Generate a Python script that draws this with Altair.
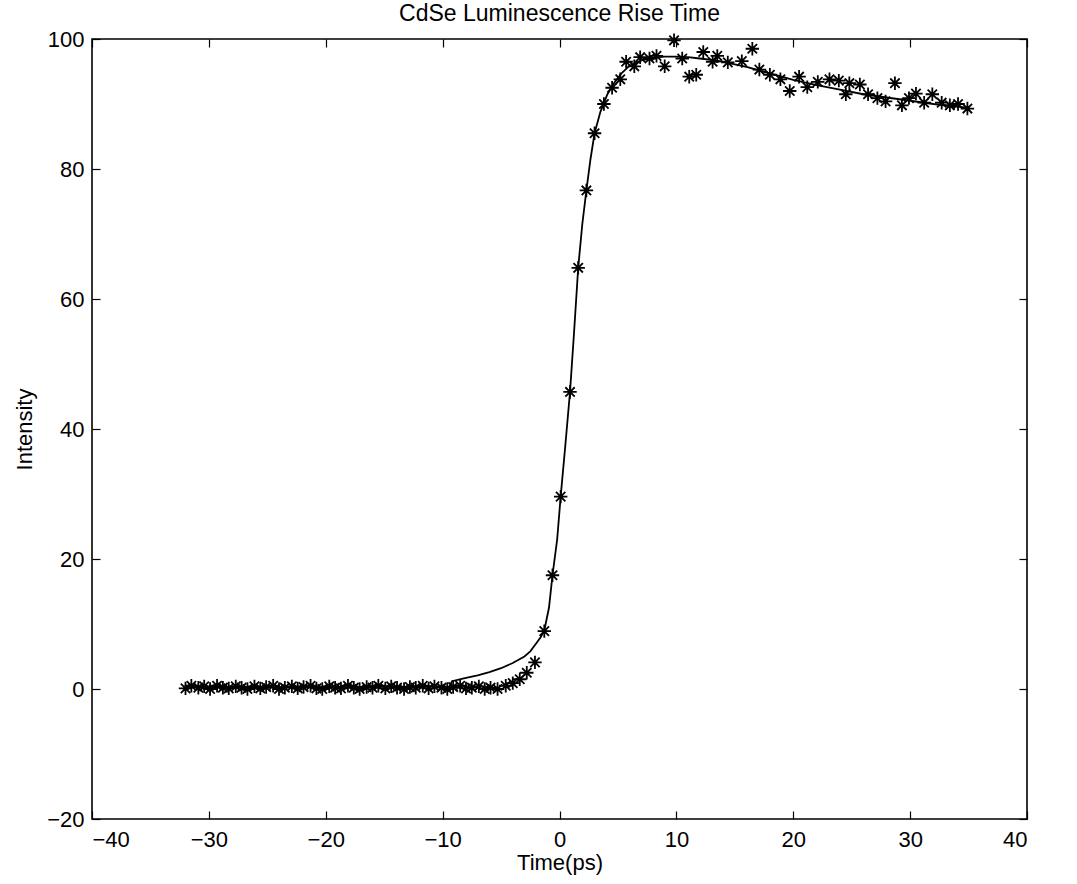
import altair as alt
import pandas as pd

# Measured data points (asterisks)
pt_x = [-32.0, -31.5, -30.9, -30.4, -29.9, -29.3, -28.8, -28.3, -27.7, -27.2,
        -26.7, -26.1, -25.6, -25.1, -24.5, -24.0, -23.5, -22.9, -22.4, -21.9,
        -21.3, -20.8, -20.3, -19.7, -19.2, -18.7, -18.1, -17.6, -17.1, -16.5,
        -16.0, -15.5, -14.9, -14.4, -13.9, -13.3, -12.8, -12.3, -11.7, -11.2,
        -10.7, -10.1, -9.6, -9.1, -8.5, -8.0, -7.5, -6.9, -6.4, -5.9,
        -5.3, -4.6, -4.0, -3.4, -2.8, -2.1, -1.3, -0.6, 0.1, 0.9, 1.6, 2.3,
        3.0, 3.8, 4.5, 5.2, 5.7, 6.4, 6.9, 7.7, 8.3, 9.0, 9.8, 10.5, 11.1, 11.7,
        12.3, 13.1, 13.5, 14.4, 15.6, 16.5, 17.1, 18.0, 18.9, 19.7, 20.5, 21.2,
        22.1, 23.1, 23.9, 24.5, 24.8, 25.7, 26.4, 27.2, 27.9, 28.7, 29.3, 29.9,
        30.5, 31.2, 31.9, 32.7, 33.4, 34.1, 34.9]
pt_y = [0.1, 0.5, 0.2, 0.4, 0.0, 0.5, 0.2, 0.1, 0.4, 0.2,
        0.0, 0.4, 0.1, 0.3, 0.5, 0.0, 0.2, 0.4, 0.1, 0.3,
        0.5, 0.1, 0.0, 0.4, 0.2, 0.1, 0.5, 0.2, 0.0, 0.3,
        0.2, 0.5, 0.1, 0.4, 0.2, 0.0, 0.3, 0.2, 0.5, 0.1,
        0.4, 0.2, 0.0, 0.3, 0.5, 0.1, 0.2, 0.4, 0.0, 0.2,
        0.0, 0.5, 0.9, 1.5, 2.5, 4.1, 8.9, 17.5, 29.6, 45.7, 64.8, 76.7,
        85.5, 90.0, 92.5, 93.8, 96.5, 95.8, 97.2, 97.0, 97.4, 95.8, 99.8, 97.0, 94.2, 94.5,
        98.0, 96.5, 97.4, 96.4, 96.6, 98.5, 95.3, 94.5, 93.8, 92.0, 94.2, 92.6,
        93.4, 93.8, 93.6, 91.5, 93.2, 93.0, 91.5, 90.9, 90.4, 93.2, 89.8, 90.9,
        91.6, 90.2, 91.5, 90.2, 89.8, 90.0, 89.3]

# Fitted curve
fit_x = [-32, -20, -9.4, -9.2, -8, -7, -6, -5, -4, -3, -2.5, -2, -1.6, -1.3, -0.9,
         -0.6, -0.2, 0.1, 0.5, 0.9, 1.25, 1.6, 1.95, 2.3, 2.65, 3.0, 3.5, 4.1,
         4.7, 5.3, 6, 7, 8, 9, 10, 11, 12, 13, 14, 15, 16, 17, 18, 19, 20, 22, 24,
         26, 28, 30, 32, 35]
fit_y = [0.3, 0.3, 0.4, 1.2, 1.7, 2.1, 2.6, 3.2, 4.0, 5.0, 5.8, 7.0, 8.0, 9.0, 12.5,
         17.5, 23.0, 29.6, 37.5, 45.7, 55.0, 64.8, 71.5, 76.7, 81.5, 85.5, 88.8, 91.5,
         93.3, 94.7, 95.9, 96.7, 97.1, 97.3, 97.3, 97.2, 97.0, 96.8, 96.5, 96.1, 95.7,
         95.2, 94.7, 94.2, 93.7, 92.9, 92.2, 91.5, 91.0, 90.5, 90.0, 89.4]

x_ticks = [-40, -30, -20, -10, 0, 10, 20, 30, 40]
y_ticks = [-20, 0, 20, 40, 60, 80, 100]

pts = pd.DataFrame({"t": pt_x, "I": pt_y})
fit = pd.DataFrame({"t": fit_x, "I": fit_y})

FONT = "Liberation Sans"
xs = alt.Scale(domain=[-40, 40], nice=False, zero=False)
ys = alt.Scale(domain=[-20, 100], nice=False, zero=False)

TICK = 8

x_bottom = alt.Axis(values=x_ticks, grid=False, domain=False, tickSize=TICK, offset=-TICK,
                    tickColor="black", tickWidth=1.2, labelPadding=10, labelFontSize=22,
                    labelFont=FONT, labelColor="black", title="Time(ps)", titleFont=FONT,
                    titleFontSize=22, titleFontWeight="normal", titleColor="black",
                    titlePadding=2, orient="bottom")
y_left = alt.Axis(values=y_ticks, grid=False, domain=False, tickSize=TICK, offset=-TICK,
                  tickColor="black", tickWidth=1.2, labelPadding=8, labelFontSize=22,
                  labelFont=FONT, labelColor="black", title="Intensity", titleFont=FONT,
                  titleFontSize=22, titleFontWeight="normal", titleColor="black",
                  titlePadding=10, orient="left")
x_top = alt.Axis(values=x_ticks, grid=False, domain=False, tickSize=TICK, offset=-TICK,
                 tickColor="black", tickWidth=1.2, labels=False, title=None, orient="top")
y_right = alt.Axis(values=y_ticks, grid=False, domain=False, tickSize=TICK, offset=-TICK,
                   tickColor="black", tickWidth=1.2, labels=False, title=None, orient="right")

ASTERISK = "M-1,0L1,0M0,-1L0,1M-0.7,-0.7L0.7,0.7M-0.7,0.7L0.7,-0.7"

line = alt.Chart(fit).mark_line(color="black", strokeWidth=1.8).encode(
    x=alt.X("t:Q", scale=xs, axis=x_bottom),
    y=alt.Y("I:Q", scale=ys, axis=y_left),
)

points = alt.Chart(pts).mark_point(shape=ASTERISK, size=180, filled=False,
                                   stroke="black", strokeWidth=1.8, opacity=1).encode(
    x=alt.X("t:Q", scale=xs, axis=x_top),
    y=alt.Y("I:Q", scale=ys, axis=y_right),
)

chart = alt.layer(line, points).resolve_axis(x="independent", y="independent").properties(
    width=935, height=780,
    title=alt.TitleParams("CdSe Luminescence Rise Time", font=FONT, fontSize=23,
                          fontWeight="normal", color="black", offset=2, anchor="middle"),
    autosize=alt.AutoSizeParams(type="none"),
    padding={"left": 92, "top": 39, "right": 50, "bottom": 65},
).configure(background="white").configure_view(stroke="black", strokeWidth=1.6)

chart.save("out.html", embed_options={"renderer": "svg", "actions": False})
